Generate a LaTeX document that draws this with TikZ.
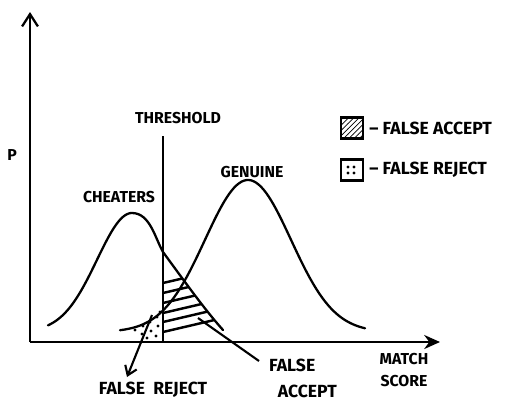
\documentclass[tikz,border=0pt]{standalone}
\usepackage{fontspec}
\setsansfont{Fira Sans}
\usepackage{tikz}
\usetikzlibrary{arrows.meta, patterns}

\tikzset{
  lbl/.style = {font=\sffamily\bfseries\fontsize{9}{10}\selectfont, inner sep=1pt},
  biglbl/.style = {lbl, font=\sffamily\bfseries\fontsize{10}{11}\selectfont},
  curve/.style = {line width=1.3pt, line join=round, line cap=round},
  legbox/.style = {draw, line width=1.6pt, minimum width=0.44cm, minimum height=0.42cm, inner sep=0pt}
}

\begin{document}
\begin{tikzpicture}[x=0.02cm, y=-0.02cm]
\useasboundingbox (0,0) rectangle (513,403);
\coordinate (o) at (30,342);
\coordinate (ytop) at (30,12);
\coordinate (xend) at (440,342);
\coordinate (thtop) at (163,136);
\coordinate (thbot) at (163,342);
% axes
\draw[line width=1.3pt, -{Straight Barb[length=7pt, width=9pt, line width=1.3pt]}] (o) -- (ytop);
\draw[line width=1.3pt, -{Stealth[length=9pt, width=8pt]}] (o) -- (xend);
% the two curves
\draw[curve] plot[domain=48:132, samples=50] (\x, {332-119*exp(-0.5*((\x-132)/35)^2)})
  .. controls (150,213) and (155,238) .. (163,252)
  .. controls (185,282) and (205,310) .. (223,330);
\draw[curve] plot[domain=120:365, samples=100] (\x, {332-152*exp(-0.5*((\x-248)/43)^2)});
% threshold
\draw[line width=1.1pt] (thbot) -- (thtop);
% false accept hatching
\begin{scope}
\clip (163,336) -- (163,252) .. controls (185,282) and (205,310) .. (223,330) -- (223,336) -- cycle;
\foreach \y in {283,293,303,313,322,332}
  \draw[line width=1.4pt] (163,\y) -- (240,\y-18);
\end{scope}
% false reject dots
\foreach \p in {(135,330),(143,326),(150,322),(157,317),(142,334),(151,331),(158,326),(147,338),(156,336),(160,312)}
  \fill \p circle (1.6);
% labels
\node[lbl] (p) at (12,155) {P};
\node[lbl] (thr) at (178,118) {THRESHOLD};
\node[lbl] (cheat) at (119,197) {CHEATERS};
\node[lbl] (gen) at (252,172) {GENUINE};
\node[lbl, align=center] (score) at (404,370) {MATCH\\[3pt]SCORE};
\node[biglbl] (frlab) at (153,390) {FALSE\ \ REJECT};
\node[biglbl, align=left, anchor=north west] (falab) at (267,357) {FALSE\\[4pt]\hspace*{0.5em}ACCEPT};
% legend
\node[legbox, pattern=north east lines] (leg1) at (352,128) {};
\node[legbox] (leg2) at (352,170) {};
\foreach \d in {(-4,-3),(2,-3),(-4,3),(2,3)}
  \fill ([shift={\d}]leg2.center) circle (1.6);
\node[biglbl, anchor=west] (fatxt) at (leg1.east) {\,-- FALSE ACCEPT};
\node[biglbl, anchor=west] (frtxt) at (leg2.east) {\,-- FALSE\ REJECT};
% pointers
\coordinate (frpt) at (152,315);
\coordinate (frtip) at (127,377);
\coordinate (fapt) at (198,318);
\draw[line width=1.2pt, -{Straight Barb[length=5pt, width=7pt]}] (frpt) -- (frtip);
\draw[line width=1.2pt] (fapt) -- ([shift={(-8,4)}]falab.north west);
\end{tikzpicture}
\end{document}
